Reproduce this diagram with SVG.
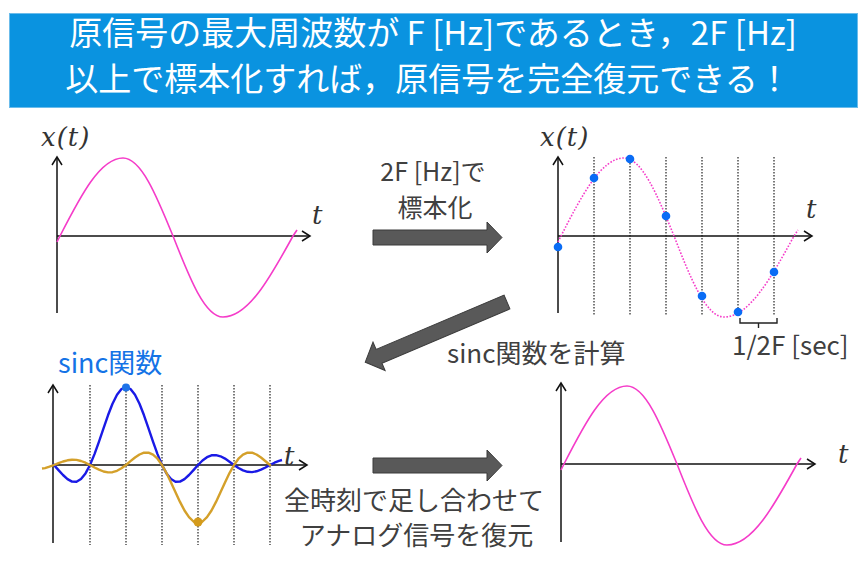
<svg xmlns="http://www.w3.org/2000/svg" xmlns:xlink="http://www.w3.org/1999/xlink" width="868" height="568" viewBox="0 0 868 568">
<style>
.jp{font-family:"Noto Sans CJK JP","Noto Sans",sans-serif;fill:#404040}
.math{font-family:"DejaVu Serif",serif;font-style:italic;fill:#333}
.axis{stroke:#111;stroke-width:1.5;fill:none;marker-end:url(#open)}
.sine{fill:none;stroke:#F53CC9;stroke-width:1.6}
.dots{fill:none;stroke:#F53CC9;stroke-width:1.6;stroke-dasharray:1.6 1.6}
.grid{stroke:#333;stroke-width:1.3;stroke-dasharray:1.5 1.5}
.blk{fill:#595959;stroke:#3a3a3a;stroke-width:1}
</style>
<defs>
<marker id="open" markerWidth="12" markerHeight="12" refX="9" refY="6" orient="auto" markerUnits="userSpaceOnUse">
<path d="M1,1 L9,6 L1,11" fill="none" stroke="#111" stroke-width="1.5"/>
</marker>
<path id="sinepath" d="M0,6 L3,0 C23.8,-40.6 43.3,-78 66,-78 C84,-78 99.5,-40.6 116,0 C132.5,42.1 148,81 166,81 C191.2,81 212.9,42.1 236,0 L240,-6"/>
<polygon id="blockarrow" points="0,-7.5 114,-7.5 114,-15.5 129,0 114,15.5 114,7.5 0,7.5"/>
</defs>

<g id="title">
<rect x="9.5" y="13.5" width="848" height="94" fill="#0A93E0" stroke="#6BBCEB" stroke-width="1"/>
<text x="433" y="45" text-anchor="middle" font-family="'Noto Sans CJK JP','Noto Sans',sans-serif" font-size="33" fill="#fff">原信号の最大周波数が F [Hz]であるとき，2F [Hz]</text>
<text x="428" y="91" text-anchor="middle" font-family="'Noto Sans CJK JP','Noto Sans',sans-serif" font-size="33" fill="#fff">以上で標本化すれば，原信号を完全復元できる！</text>
</g>

<g id="plot-original">
<line class="axis" x1="57" y1="313" x2="57" y2="157"/>
<line class="axis" x1="57" y1="236" x2="310" y2="236"/>
<use xlink:href="#sinepath" class="sine" transform="translate(57,236)"/>
<text class="math" x="41" y="146" font-size="26" letter-spacing="1">x(t)</text>
<text class="math" x="312" y="224" font-size="26">t</text>
</g>

<g id="plot-sampled">
<g class="grid">
<line x1="594" y1="157" x2="594" y2="316"/>
<line x1="630" y1="157" x2="630" y2="316"/>
<line x1="666" y1="157" x2="666" y2="316"/>
<line x1="702" y1="157" x2="702" y2="316"/>
<line x1="738" y1="157" x2="738" y2="316"/>
<line x1="774" y1="157" x2="774" y2="316"/>
</g>
<line class="axis" x1="558" y1="313" x2="558" y2="157"/>
<line class="axis" x1="558" y1="236" x2="812" y2="236"/>
<use xlink:href="#sinepath" class="dots" transform="translate(558,236)"/>
<g fill="#0A6CF5">
<circle cx="558" cy="247" r="4.3"/>
<circle cx="594" cy="178" r="4.3"/>
<circle cx="630" cy="159" r="4.3"/>
<circle cx="666" cy="216" r="4.3"/>
<circle cx="702" cy="296" r="4.3"/>
<circle cx="738" cy="312" r="4.3"/>
<circle cx="774" cy="272" r="4.3"/>
</g>
<path d="M740,318 L740,323 L777,323 L777,318 M758.5,323 L758.5,328" fill="none" stroke="#222" stroke-width="1.4"/>
<text class="jp" x="732" y="355" font-size="26">1/2F [sec]</text>
<text class="math" x="540" y="146" font-size="26" letter-spacing="1">x(t)</text>
<text class="math" x="806" y="218" font-size="26">t</text>
</g>

<g id="plot-sinc">
<g class="grid">
<line x1="90" y1="385" x2="90" y2="545"/>
<line x1="126" y1="385" x2="126" y2="545"/>
<line x1="162" y1="385" x2="162" y2="545"/>
<line x1="198" y1="385" x2="198" y2="545"/>
<line x1="234" y1="385" x2="234" y2="545"/>
<line x1="270" y1="385" x2="270" y2="545"/>
</g>
<line class="axis" x1="53" y1="543" x2="53" y2="385"/>
<line class="axis" x1="53" y1="465" x2="307" y2="465"/>
<polyline fill="none" stroke="#1A1AE6" stroke-width="2.4" stroke-linejoin="round" points="53,463.9 58.5,470.1 63,475.0 67.5,479.1 72,481.6 76.5,481.7 81,479.0 85.5,473.4 90,465 94.5,454.1 99,441.6 103.5,428.3 108,415.3 112.5,403.8 117,394.8 121.5,389.0 126,387 130.5,389.0 135,394.8 139.5,403.8 144,415.3 148.5,428.3 153,441.6 157.5,454.1 162,465 166.5,473.4 171,479.0 175.5,481.7 180,481.6 184.5,479.1 189,475.0 193.5,470.1 198,465 202.5,460.5 207,457.2 211.5,455.3 216,455.1 220.5,456.3 225,458.6 229.5,461.7 234,465 238.5,468.0 243,470.4 247.5,471.8 252,472.1 256.5,471.3 261,469.7 265.5,467.5 270,465 274.5,462.7 279,460.9 282,460.0"/>
<polyline fill="none" stroke="#D4A02A" stroke-width="2.4" stroke-linejoin="round" points="42,468.5 45,468.1 49.5,466.7 54,465 58.5,463.2 63,461.5 67.5,460.3 72,459.7 76.5,459.9 81,461.0 85.5,462.7 90,465 94.5,467.5 99,469.7 103.5,471.5 108,472.4 112.5,472.2 117,470.8 121.5,468.3 126,465 130.5,461.2 135,457.5 139.5,454.5 144,452.7 148.5,452.6 153,454.6 157.5,458.7 162,465 166.5,473.1 171,482.4 175.5,492.3 180,501.9 184.5,510.5 189,517.2 193.5,521.5 198,523 202.5,521.5 207,517.2 211.5,510.5 216,501.9 220.5,492.3 225,482.4 229.5,473.1 234,465 238.5,458.7 243,454.6 247.5,452.6 252,452.7 256.5,454.5 261,457.5 265.5,461.2 270,465 271,465.9"/>
<circle cx="126" cy="387.5" r="4" fill="#1E73E8"/>
<circle cx="198" cy="522" r="4.5" fill="#D49B1C"/>
<text x="58" y="373" font-family="'Noto Sans CJK JP','Noto Sans',sans-serif" font-size="27" fill="#1473E6">sinc関数</text>
<text class="math" x="284" y="465" font-size="26">t</text>
</g>

<g id="plot-reconstructed">
<line class="axis" x1="561" y1="542" x2="561" y2="383"/>
<line class="axis" x1="561" y1="464" x2="815" y2="464"/>
<use xlink:href="#sinepath" class="sine" transform="translate(561,464)"/>
<text class="math" x="838" y="463" font-size="26">t</text>
</g>

<g id="connectors">
<use xlink:href="#blockarrow" class="blk" transform="translate(373,237.5)"/>
<g class="blk" transform="translate(507,302) rotate(157)">
<polygon points="0,-7.5 139,-7.5 139,-15.5 154,0 139,15.5 139,7.5 0,7.5"/>
</g>
<use xlink:href="#blockarrow" class="blk" transform="translate(373,465.5)"/>
</g>

<g id="labels">
<text class="jp" x="433" y="181" font-size="25" text-anchor="middle">2F [Hz]で</text>
<text class="jp" x="435" y="217" font-size="25" text-anchor="middle">標本化</text>
<text class="jp" x="447" y="363" font-size="26">sinc関数を計算</text>
<text class="jp" x="414" y="510" font-size="26" text-anchor="middle">全時刻で足し合わせて</text>
<text class="jp" x="416.5" y="545" font-size="26" text-anchor="middle">アナログ信号を復元</text>
</g>
</svg>
